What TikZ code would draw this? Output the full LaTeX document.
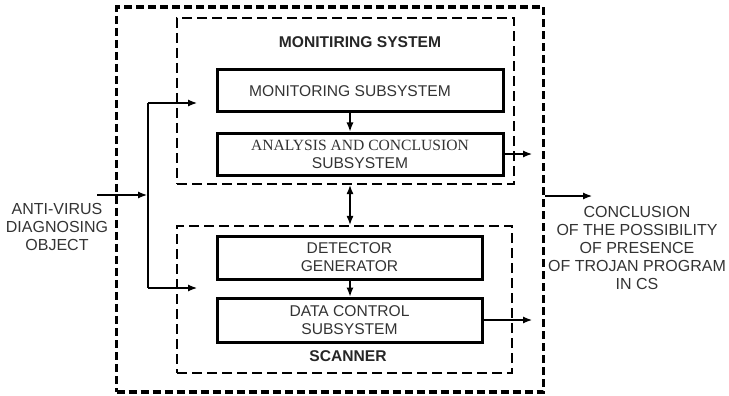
\documentclass[tikz,border=0pt]{standalone}
\usepackage{fontspec}
\setmainfont{Liberation Sans}
\newfontfamily\timesfont{Liberation Serif}
\usetikzlibrary{calc,positioning,arrows.meta}

\tikzset{
  outerbox/.style={draw, line width=3.4pt, dash pattern=on 8pt off 4pt, inner sep=0pt},
  groupbox/.style={draw, line width=2.2pt, dash pattern=on 10pt off 5pt, inner sep=0pt},
  block/.style={draw, line width=3pt, align=center, inner sep=0pt, text=black!80,
    font=\fontsize{15.6}{18}\selectfont},
  lbl/.style={align=center, text=black!80, font=\fontsize{16}{18}\selectfont},
  ttl/.style={text=black!85, font=\bfseries\fontsize{15.6}{18}\selectfont},
  flow/.style={-{Latex[length=9pt,width=7pt]}, line width=1.2pt},
  dflow/.style={{Latex[length=9pt,width=7pt]}-{Latex[length=9pt,width=7pt]}, line width=1.2pt},
}

\begin{document}
\begin{tikzpicture}[x=1pt,y=-1pt]
\useasboundingbox (0,0) rectangle (729,396);

% frames
\node[outerbox, minimum width=427pt, minimum height=385pt] (outer) at (330,199.5) {};
\node[groupbox, minimum width=337pt, minimum height=166pt] (monsys) at (345.5,101) {};
\node[groupbox, minimum width=335pt, minimum height=147pt] (scanner) at (344.5,299.5) {};
\node[ttl] (montitle) at (360,42) {MONITIRING SYSTEM};
\node[ttl] (scantitle) at (348,356) {SCANNER};

% blocks
\node[block, minimum width=286pt, minimum height=42pt] (monsub) at (360,91) {MONITORING SUBSYSTEM\hspace*{20pt}};
\node[block, minimum width=286pt, minimum height=42pt] (anal) at (360,154)
  {{\timesfont ANALYSIS AND CONCLUSION}\\SUBSYSTEM};
\node[block, minimum width=265pt, minimum height=43pt] (detect) at (349.5,257.5) {DETECTOR\\GENERATOR};
\node[block, minimum width=265pt, minimum height=44pt] (datactl) at (349.5,320) {DATA CONTROL\\SUBSYSTEM};

% labels
\node[lbl] (object) at (57,227) {ANTI-VIRUS\\DIAGNOSING\\OBJECT};
\node[lbl] (result) at (637,247.5) {CONCLUSION\\OF THE POSSIBILITY\\OF PRESENCE\\OF TROJAN PROGRAM\\IN CS};

% points
\coordinate (axis) at (350,0);
\coordinate (inpt) at (97,195);
\coordinate (split) at (148,195);
\coordinate (upin) at (197,103);
\coordinate (lowin) at (197,288);
\coordinate (out1) at (532,154);
\coordinate (out2) at (532,320);
\coordinate (outr) at (592,196);

% connectors
\draw[flow] (monsub.south -| axis) -- (anal.north -| axis);
\draw[flow] (detect.south -| axis) -- (datactl.north -| axis);
\draw[dflow] (monsys.south -| axis) -- (scanner.north -| axis);
\draw[flow] (inpt) -- ($(split)+(-1,0)$);
\draw[line width=1.2pt] (split |- upin) -- (split |- lowin);
\draw[flow] (split |- upin) -- (upin);
\draw[flow] (split |- lowin) -- (lowin);
\draw[flow] (anal.east) -- (out1);
\draw[flow] (datactl.east) -- (out2);
\draw[flow] (outer.east |- outr) -- (outr);
\end{tikzpicture}
\end{document}
